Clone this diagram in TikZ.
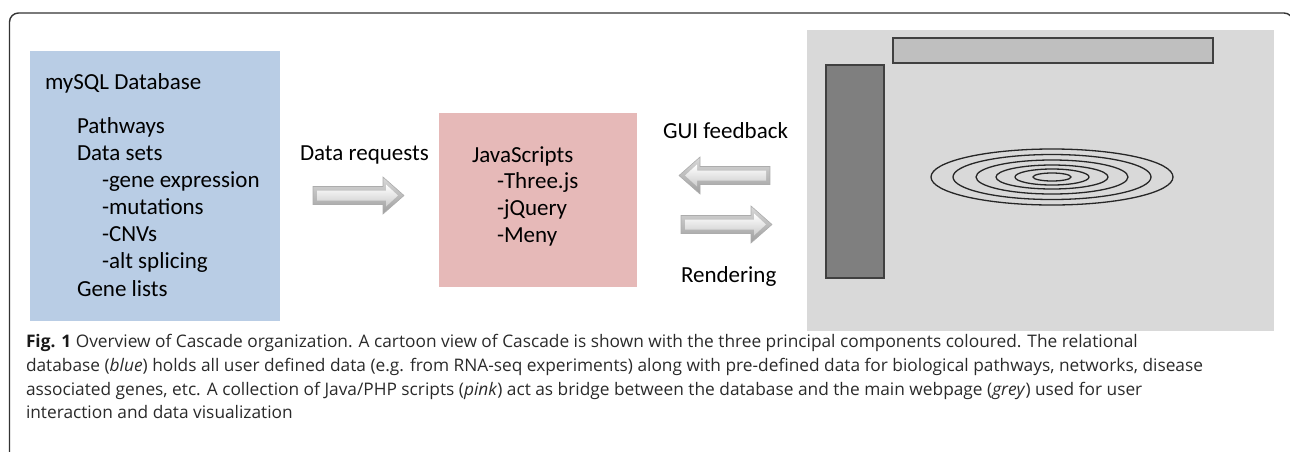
\documentclass[tikz,border=0pt]{standalone}
\usepackage{fontspec}
\setmainfont{Carlito}
\newfontfamily\capfont{Open Sans}
\definecolor{dbblue}{HTML}{B9CDE5}
\definecolor{jspink}{HTML}{E6B9B8}
\definecolor{panel}{HTML}{D9D9D9}
\definecolor{topbar}{HTML}{BFBFBF}
\definecolor{sidebar}{HTML}{7F7F7F}
\definecolor{captxt}{HTML}{2A2A2A}
\definecolor{framec}{HTML}{333333}
\tikzset{
  every node/.style={inner sep=0pt, outer sep=0pt},
  lbl/.style={anchor=base west, font=\fontsize{23}{27}\selectfont, text=black},
  captext/.style={anchor=base west, font=\capfont\fontsize{17.3}{24}\selectfont, text=captxt},
  boxfill/.style={draw=none, anchor=north west},
  uiframe/.style={draw=black!75, line width=1.2pt, anchor=north west},
  ring/.style={draw=black!85, line width=1.3pt},
  bevarrow/.pic={
    \path[top color=gray!30, bottom color=gray!75, draw=gray!65, line width=0.6pt]
      (0,-9) -- (70,-9) -- (70,-18.5) -- (91,0) -- (70,18.5) -- (70,9) -- (0,9) -- cycle;
    \path[top color=white, bottom color=gray!40]
      (4,-5) -- (73,-5) -- (73,-11) -- (85,0) -- (73,11) -- (73,5) -- (4,5) -- cycle;
  }
}
\begin{document}
\begin{tikzpicture}[x=1pt,y=-1pt]
\useasboundingbox (0,0) rectangle (1290,451);
% outer frame
\draw[framec, line width=1.4pt, rounded corners=9pt] (9.5,460) -- (9.5,13) -- (1293,13) -- (1293,60);
% database box
\node[boxfill, fill=dbblue, minimum width=250pt, minimum height=270pt] (db) at (29.5,51) {};
\node[lbl] (t1) at (45,89) {mySQL Database};
\node[lbl] (t2) at (77,133) {Pathways};
\node[lbl] (t3) at (77,160) {Data sets};
\node[lbl] (t4) at (102,187) {-gene expression};
\node[lbl] (t5) at (102,214) {-mutations};
\node[lbl] (t6) at (102,241) {-CNVs};
\node[lbl] (t7) at (102,268) {-alt splicing};
\node[lbl] (t8) at (77,296) {Gene lists};
% data requests
\node[lbl] (dr) at (300,160) {Data requests};
\pic (a1) at (313,195.5) {bevarrow};
% javascript box
\node[boxfill, fill=jspink, minimum width=198pt, minimum height=174pt] (js) at (439,113) {};
\node[lbl] (j1) at (472,162) {JavaScripts};
\node[lbl] (j2) at (497,188) {-Three.js};
\node[lbl] (j3) at (497,215) {-jQuery};
\node[lbl] (j4) at (497,242) {-Meny};
% GUI arrows
\node[lbl] (gf) at (663,138) {GUI feedback};
\pic[xscale=-1] (a2) at (770,175.5) {bevarrow};
\pic (a3) at (681,224.5) {bevarrow};
\node[lbl] (rn) at (681,282) {Rendering};
% web page panel
\node[boxfill, fill=panel, minimum width=467pt, minimum height=301pt] (web) at (807,30) {};
\node[uiframe, fill=topbar, minimum width=320pt, minimum height=25pt] (tb) at (893,38) {};
\node[uiframe, fill=sidebar, minimum width=58pt, minimum height=213pt] (sb) at (826,65) {};
\coordinate (c) at (1052,177);
\draw[ring] (c) ellipse [x radius=121pt, y radius=28pt];
\draw[ring] (c) ellipse [x radius=99pt, y radius=22.5pt];
\draw[ring] (c) ellipse [x radius=76pt, y radius=17pt];
\draw[ring] (c) ellipse [x radius=56pt, y radius=12pt];
\draw[ring] (c) ellipse [x radius=37pt, y radius=8pt];
\draw[ring] (c) ellipse [x radius=19pt, y radius=4pt];
% caption
\node[captext] (c1) at (26,347) {{\bfseries\color{black!90}Fig. 1} Overview of Cascade organization. A cartoon view of Cascade is shown with the three principal components coloured. The relational};
\node[captext] (c2) at (26,371) {database (\textit{blue}) holds all user defined data (e.g. from RNA-seq experiments) along with pre-defined data for biological pathways, networks, disease};
\node[captext] (c3) at (26,395) {associated genes, etc. A collection of Java/PHP scripts (\textit{pink}) act as bridge between the database and the main webpage (\textit{grey}) used for user};
\node[captext] (c4) at (26,418) {interaction and data visualization};
\end{tikzpicture}
\end{document}
